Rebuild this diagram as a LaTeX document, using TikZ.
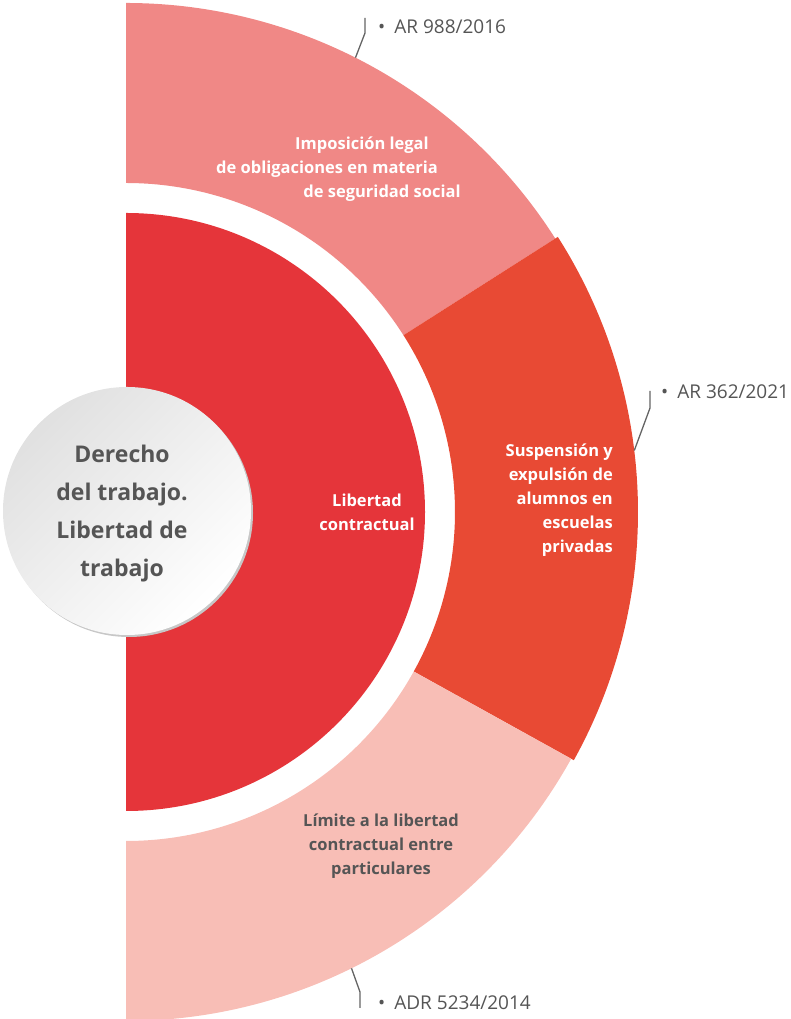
\documentclass[tikz,border=0pt]{standalone}
\usepackage{fontspec}
\setmainfont{Open Sans}
\usetikzlibrary{calc}
\definecolor{segtop}{RGB}{240,136,134}
\definecolor{segmid}{RGB}{232,74,52}
\definecolor{segbot}{RGB}{248,190,182}
\definecolor{seginner}{RGB}{229,53,58}
\definecolor{labelgray}{RGB}{85,85,85}
\definecolor{linegray}{RGB}{100,100,100}

\begin{document}
\begin{tikzpicture}
[x=1pt, y=1pt,
 seglabel/.style={font=\bfseries\fontsize{16.5}{24}\selectfont, text=white, align=center, inner sep=0pt},
 caselabel/.style={font=\fontsize{19}{22}\selectfont, text=labelgray, anchor=west, inner sep=0pt},
 leader/.style={draw=linegray, line width=1.3pt}]
    \useasboundingbox (0,0) rectangle (791,1019);
    \coordinate (c) at (126,507);
    % outer ring
    \fill[segtop] ($(c)+(32.5:329)$) arc[start angle=32.5, end angle=90, radius=329]
        -- ($(c)+(90:509)$) arc[start angle=90, end angle=32.5, radius=509] -- cycle;
    \fill[segmid] ($(c)+(-29:329)$) arc[start angle=-29, end angle=32.5, radius=329]
        -- ($(c)+(32.5:512)$) arc[start angle=32.5, end angle=-29, radius=512] -- cycle;
    \fill[segbot] ($(c)+(-90:329)$) arc[start angle=-90, end angle=-29, radius=329]
        -- ($(c)+(-29:509)$) arc[start angle=-29, end angle=-90, radius=509] -- cycle;
    % inner half disc
    \fill[seginner] ($(c)+(-90:299)$) arc[start angle=-90, end angle=90, radius=299] -- cycle;
    % central circle
    \fill[black!22] (129,506) circle (124);
    \shade[shading=axis, top color=black!12, bottom color=white, shading angle=45] (127,508) circle (124);
    \node[font=\bfseries\fontsize{23}{38}\selectfont, text=labelgray, align=center] (topic) at (122,505)
        {Derecho\\del trabajo.\\Libertad de\\trabajo};
    % segment labels
    \node[seglabel] (libertad) at (367,507) {Libertad\\contractual};
    \node[seglabel] (imp1) at (362,874) {Imposición legal};
    \node[seglabel] (imp2) at (327,850) {de obligaciones en materia};
    \node[seglabel] (imp3) at (382,826) {de seguridad social};
    \node[seglabel, align=right, anchor=east] (susp) at (613,519)
        {Suspensión y\\expulsión de\\alumnos en\\escuelas\\privadas};
    \node[seglabel, text=labelgray] (limite) at (381,173)
        {Límite a la libertad\\contractual entre\\particulares};
    % leaders
    \coordinate (t0) at ($(c)+(63.2:509)$);
    \coordinate (t1) at (365,986);
    \coordinate (t2) at (365,1001);
    \draw[leader] (t0) -- (t1) -- (t2);
    \node[caselabel] (ar988) at (378,992) {•\hspace{9pt}AR 988/2016};
    \coordinate (r0) at ($(c)+(6.9:512)$);
    \coordinate (r1) at (650,611);
    \coordinate (r2) at (650,628);
    \draw[leader] (r0) -- (r1) -- (r2);
    \node[caselabel] (ar362) at (661,627) {•\hspace{9pt}AR 362/2021};
    \coordinate (b0) at ($(c)+(-63.7:509)$);
    \coordinate (b1) at (360,27);
    \coordinate (b2) at (360,11);
    \draw[leader] (b0) -- (b1) -- (b2);
    \node[caselabel] (adr) at (378,16) {•\hspace{9pt}ADR 5234/2014};
\end{tikzpicture}
\end{document}
